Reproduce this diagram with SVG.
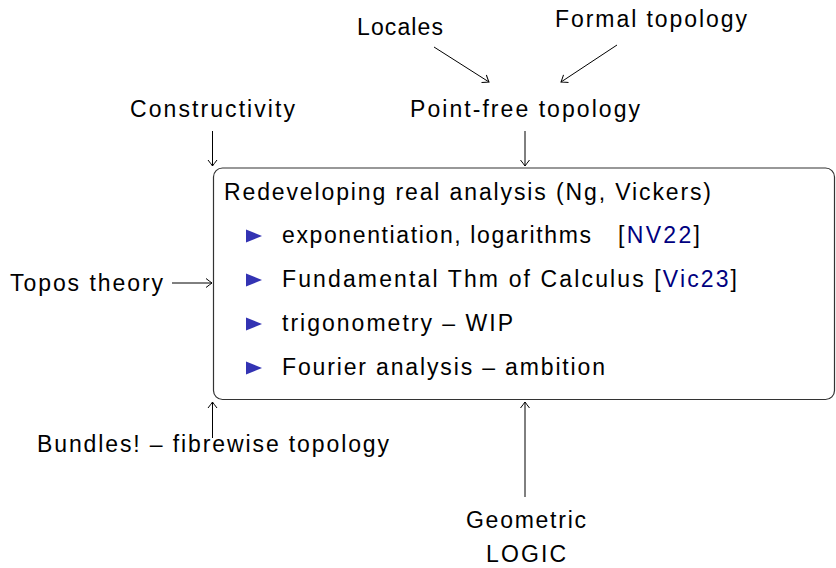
<svg xmlns="http://www.w3.org/2000/svg" width="836" height="568" viewBox="0 0 836 568">
<style>
text{font-family:"Liberation Sans",Arial,sans-serif;font-size:23px;fill:#000}
.cite{fill:#00007f}
.conn line{stroke:#000;stroke-width:1;marker-end:url(#ar)}
.bul{fill:#3333b3}
</style>
<defs>
<marker id="ar" markerUnits="userSpaceOnUse" viewBox="-8 -6 10 12" refX="0" refY="0" markerWidth="10" markerHeight="12" orient="auto" overflow="visible">
<path d="M-6,-4.5 Q-1.5,-1 0,0 Q-1.5,1 -6,4.5" fill="none" stroke="#000" stroke-width="1"/>
</marker>
</defs>
<rect width="836" height="568" fill="#fff"/>
<g class="conn" id="connectors">
<line x1="434" y1="47" x2="489" y2="82"/>
<line x1="617" y1="45" x2="561" y2="82"/>
<line x1="212.5" y1="131" x2="212.5" y2="166"/>
<line x1="525" y1="131" x2="525" y2="166"/>
<line x1="172" y1="283" x2="212" y2="283"/>
<line x1="212.5" y1="438" x2="212.5" y2="402"/>
<line x1="525" y1="497" x2="525" y2="402"/>
</g>
<g id="locales"><text x="357" y="35" textLength="86" lengthAdjust="spacing">Locales</text></g>
<g id="formal"><text x="555" y="27" textLength="192" lengthAdjust="spacing">Formal topology</text></g>
<g id="constructivity"><text x="130" y="117" textLength="165" lengthAdjust="spacing">Constructivity</text></g>
<g id="pointfree"><text x="410" y="117" textLength="230" lengthAdjust="spacing">Point-free topology</text></g>
<g id="topos"><text x="10" y="291" textLength="153" lengthAdjust="spacing">Topos theory</text></g>
<g id="bundles"><text x="37" y="452" textLength="352" lengthAdjust="spacing">Bundles! – fibrewise topology</text></g>
<g id="geometric"><text x="466" y="528" textLength="120" lengthAdjust="spacing">Geometric</text><text x="486" y="562" textLength="80" lengthAdjust="spacing">LOGIC</text></g>
<g id="main">
<rect x="213.5" y="168" width="621" height="231.5" rx="9" fill="none" stroke="#333" stroke-width="1.2"/>
<text x="224" y="200" textLength="487" lengthAdjust="spacing">Redeveloping real analysis (Ng, Vickers)</text>
<path class="bul" d="M246,229.5 L262,236 L246,242.5 Z"/>
<text x="282" y="243" textLength="309" lengthAdjust="spacing">exponentiation, logarithms</text>
<text x="618" y="243" textLength="82" lengthAdjust="spacing">[<tspan class="cite">NV22</tspan>]</text>
<path class="bul" d="M246,273.5 L262,280 L246,286.5 Z"/>
<text x="282" y="287" textLength="455" lengthAdjust="spacing">Fundamental Thm of Calculus [<tspan class="cite">Vic23</tspan>]</text>
<path class="bul" d="M246,317.5 L262,324 L246,330.5 Z"/>
<text x="282" y="331" textLength="231" lengthAdjust="spacing">trigonometry – WIP</text>
<path class="bul" d="M246,361.5 L262,368 L246,374.5 Z"/>
<text x="282" y="375" textLength="323" lengthAdjust="spacing">Fourier analysis – ambition</text>
</g>
</svg>
